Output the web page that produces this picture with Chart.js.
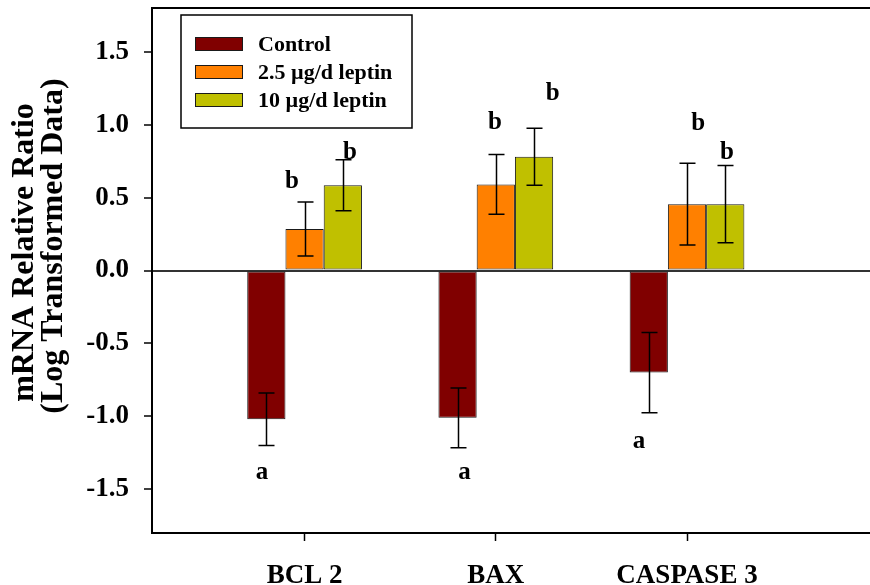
<!DOCTYPE html>
<html>
<head>
<meta charset="utf-8">
<script src="https://cdn.jsdelivr.net/npm/chart.js@4"></script>
<style>
  html, body { margin: 0; padding: 0; background: #fff; }
  canvas { display: block; }
</style>
</head>
<body>
<canvas id="c" width="870" height="585"></canvas>
<script>
// Genes on the x axis (placed at 1, 2, 3 on a linear axis)
const categories = ['BCL 2', 'BAX', 'CASPASE 3'];

// Series labels and colours
const seriesLabels = ['Control', '2.5 \u00b5g/d leptin', '10 \u00b5g/d leptin'];
const seriesColors = ['#800000', '#ff8000', '#c0c000'];

// Mean log-transformed mRNA ratios
const controlValues  = [-1.02, -1.01, -0.70];
const leptin25Values = [0.285, 0.59, 0.455];
const leptin10Values = [0.585, 0.78, 0.455];

// Standard errors
const controlErrors  = [0.18, 0.205, 0.275];
const leptin25Errors = [0.185, 0.205, 0.28];
const leptin10Errors = [0.175, 0.195, 0.265];

// Significance letters and their anchors (x in gene units, y = text baseline value)
const controlLetters  = ['a', 'a', 'a'];
const leptin25Letters = ['b', 'b', 'b'];
const leptin10Letters = ['b', 'b', 'b'];
const controlLetterX  = [0.777, 1.836, 2.749];
const controlLetterY  = [-1.43, -1.43, -1.216];
const leptin25LetterX = [0.934, 1.996, 3.058];
const leptin25LetterY = [0.564, 0.968, 0.964];
const leptin10LetterX = [1.237, 2.298, 3.209];
const leptin10LetterY = [0.763, 1.169, 0.765];

// Axis ticks
const yTickValues = [-1.5, -1.0, -0.5, 0.0, 0.5, 1.0, 1.5];
const xTickValues = [1, 2, 3];

const yTitleLines = ['mRNA Relative Ratio', '(Log Transformed Data)'];

const SERIF = '"Liberation Serif", "Times New Roman", serif';

const seriesValues = [controlValues, leptin25Values, leptin10Values];
const seriesErrors = [controlErrors, leptin25Errors, leptin10Errors];
const seriesLetters = [controlLetters, leptin25Letters, leptin10Letters];
const seriesLetterX = [controlLetterX, leptin25LetterX, leptin10LetterX];
const seriesLetterY = [controlLetterY, leptin25LetterY, leptin10LetterY];

const datasets = seriesValues.map((vals, s) => ({
  label: seriesLabels[s],
  data: vals.map((v, i) => ({ x: xTickValues[i], y: v })),
  backgroundColor: seriesColors[s],
  borderColor: '#1a1a1a',
  borderWidth: 1,
  borderSkipped: false,
  categoryPercentage: 0.6,
  barPercentage: 1.0
}));

// Error bars with caps
const errorBarPlugin = {
  id: 'errorBars',
  afterDatasetsDraw(chart) {
    const ctx = chart.ctx;
    const y = chart.scales.y;
    ctx.save();
    ctx.strokeStyle = '#000';
    ctx.lineWidth = 1.5;
    chart.data.datasets.forEach((ds, s) => {
      const meta = chart.getDatasetMeta(s);
      meta.data.forEach((bar, i) => {
        const v = seriesValues[s][i];
        const e = seriesErrors[s][i];
        const yTop = y.getPixelForValue(v + e);
        const yBot = y.getPixelForValue(v - e);
        const cx = Math.round(bar.x) + 0.5;
        const cap = 8;
        ctx.beginPath();
        ctx.moveTo(cx, yTop); ctx.lineTo(cx, yBot);
        ctx.moveTo(cx - cap, yTop); ctx.lineTo(cx + cap, yTop);
        ctx.moveTo(cx - cap, yBot); ctx.lineTo(cx + cap, yBot);
        ctx.stroke();
      });
    });
    ctx.restore();
  }
};

// Letters, top frame line, y title and the boxed legend
const decorPlugin = {
  id: 'decor',
  afterDraw(chart) {
    const ctx = chart.ctx;
    const xs = chart.scales.x, ys = chart.scales.y;
    const area = chart.chartArea;
    ctx.save();

    // top frame line
    ctx.strokeStyle = '#000';
    ctx.lineWidth = 2;
    ctx.beginPath();
    ctx.moveTo(area.left - 1, area.top);
    ctx.lineTo(area.right, area.top);
    ctx.stroke();

    // significance letters
    ctx.fillStyle = '#000';
    ctx.font = 'bold 25px ' + SERIF;
    ctx.textAlign = 'center';
    ctx.textBaseline = 'alphabetic';
    seriesLetters.forEach((letters, s) => {
      letters.forEach((t, i) => {
        ctx.fillText(t, xs.getPixelForValue(seriesLetterX[s][i]), ys.getPixelForValue(seriesLetterY[s][i]));
      });
    });

    // y axis title, two rotated lines
    ctx.font = 'bold 32px ' + SERIF;
    const titlePos = [[33, 252.5], [62, 246]];
    yTitleLines.forEach((line, k) => {
      ctx.save();
      ctx.translate(titlePos[k][0], titlePos[k][1]);
      ctx.rotate(-Math.PI / 2);
      ctx.textAlign = 'center';
      ctx.textBaseline = 'alphabetic';
      ctx.fillText(line, 0, 0);
      ctx.restore();
    });

    // legend box
    const bx = 181, by = 15, bw = 231, bh = 113;
    ctx.fillStyle = '#fff';
    ctx.fillRect(bx, by, bw, bh);
    ctx.strokeStyle = '#000';
    ctx.lineWidth = 1.5;
    ctx.strokeRect(bx, by, bw, bh);
    ctx.font = 'bold 22px ' + SERIF;
    ctx.textAlign = 'left';
    ctx.textBaseline = 'middle';
    seriesLabels.forEach((lab, s) => {
      const cy = 44 + s * 28;
      ctx.fillStyle = seriesColors[s];
      ctx.fillRect(195, cy - 7, 48, 14);
      ctx.strokeStyle = '#1a1a1a';
      ctx.lineWidth = 1;
      ctx.strokeRect(195.5, cy - 6.5, 47, 13);
      ctx.fillStyle = '#000';
      ctx.fillText(lab, 258, cy + 1);
    });

    ctx.restore();
  }
};

new Chart(document.getElementById('c'), {
  type: 'bar',
  data: { datasets },
  plugins: [errorBarPlugin, decorPlugin],
  options: {
    responsive: false,
    animation: false,
    events: [],
    layout: { autoPadding: false, padding: { top: 8, right: 0, bottom: 0, left: 0 } },
    plugins: {
      legend: { display: false },
      tooltip: { enabled: false },
      title: { display: false }
    },
    scales: {
      x: {
        type: 'linear',
        position: 'bottom',
        min: 0.202,
        max: 3.957,
        offset: false,
        afterBuildTicks(scale) {
          scale.ticks = xTickValues.map(v => ({ value: v }));
        },
        afterFit(scale) {
          scale.height = 52;
          scale.paddingLeft = 0; scale.paddingRight = 0;
        },
        ticks: {
          autoSkip: false,
          maxRotation: 0,
          padding: 19,
          color: '#000',
          font: { family: SERIF, size: 27, weight: 'bold' },
          callback: (v) => categories[xTickValues.indexOf(v)] || ''
        },
        grid: {
          offset: false,
          drawOnChartArea: false,
          drawTicks: true,
          tickLength: 8,
          tickWidth: 1.5,
          tickColor: '#000',
          color: '#000'
        },
        border: { display: true, color: '#000', width: 2 }
      },
      y: {
        type: 'linear',
        min: -1.8,
        max: 1.8,
        afterBuildTicks(scale) {
          scale.ticks = yTickValues.map(v => ({ value: v }));
        },
        afterFit(scale) {
          scale.width = 152;
          scale.paddingTop = 0; scale.paddingBottom = 0;
        },
        ticks: {
          padding: 15,
          color: '#000',
          font: { family: SERIF, size: 27, weight: 'bold' },
          callback: (v) => v.toFixed(1)
        },
        grid: {
          drawOnChartArea: true,
          drawTicks: true,
          tickLength: 8,
          tickWidth: 1.5,
          tickColor: '#000',
          color: (c) => (c.tick && c.tick.value === 0 ? '#333' : 'rgba(0,0,0,0)'),
          lineWidth: (c) => (c.tick && c.tick.value === 0 ? 2 : 0)
        },
        border: { display: true, color: '#000', width: 2 }
      }
    }
  }
});
</script>
</body>
</html>
